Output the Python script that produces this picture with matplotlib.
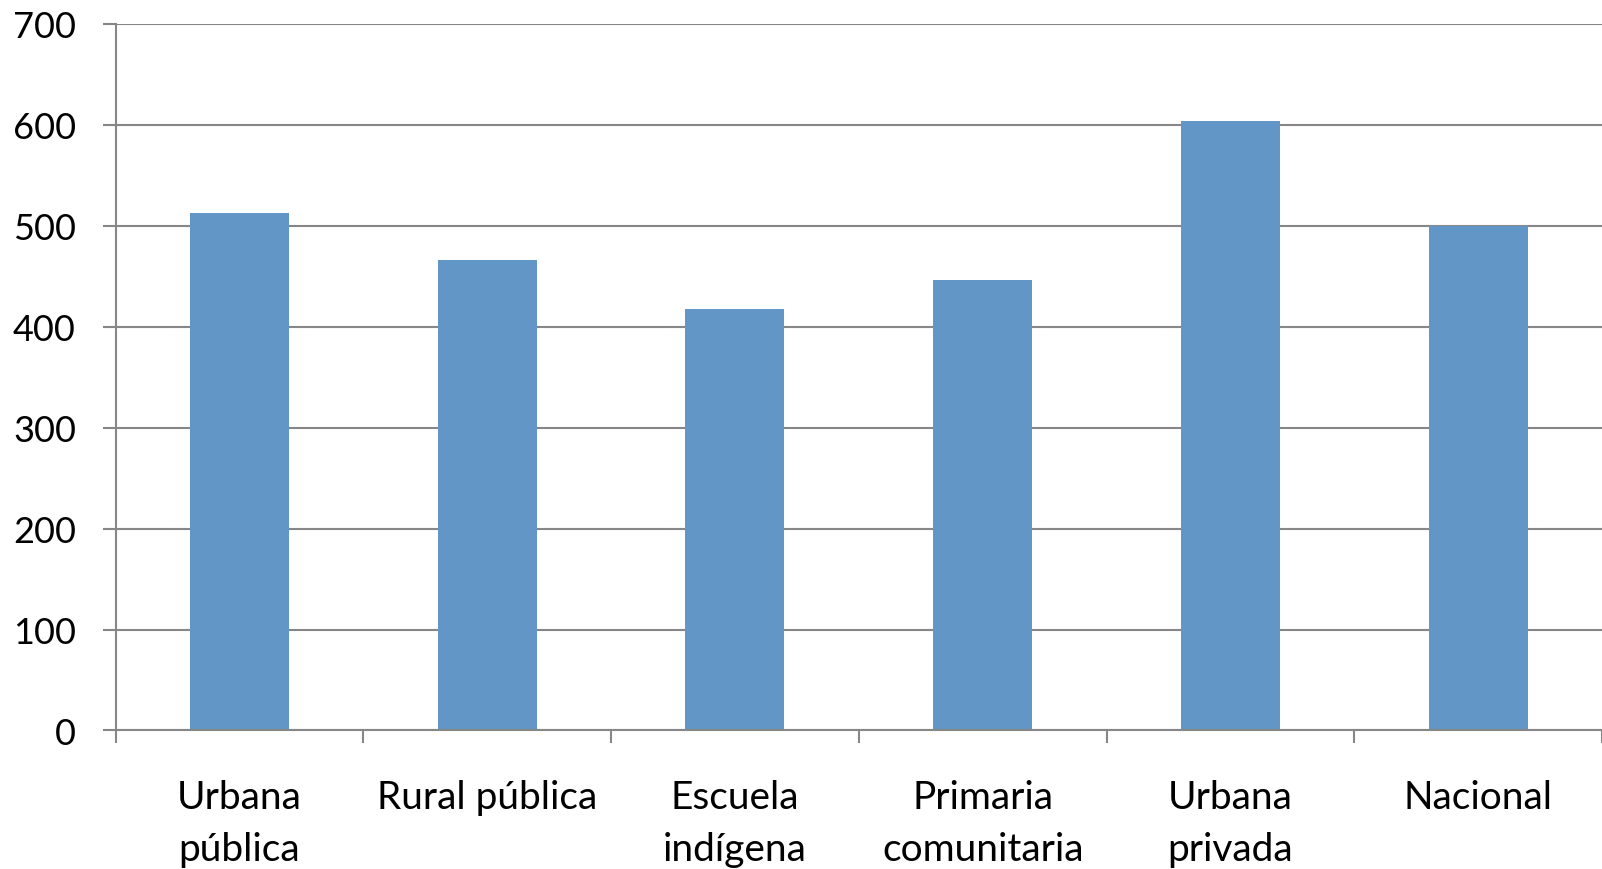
import numpy as np
import matplotlib
matplotlib.use("Agg")
import matplotlib.pyplot as plt

# data
categories = ["Urbana\npública", "Rural pública", "Escuela\nindígena",
              "Primaria\ncomunitaria", "Urbana\nprivada", "Nacional"]
values = [512, 466, 417, 446, 603, 500]
y_ticks = [0, 100, 200, 300, 400, 500, 600, 700]

bar_color = "#6196C7"
grid_color = "#878787"

plt.rcParams['font.family'] = ['Lato', 'DejaVu Sans']

fig = plt.figure(figsize=(16.02, 8.70), dpi=100)
ax = fig.add_axes([0.0721, 0.1592, 0.9279, 0.8126])

x = np.arange(len(categories))
ax.bar(x, values, width=0.4, color=bar_color, zorder=3)

ax.set_xlim(-0.5, len(categories) - 0.5)
ax.set_ylim(0, 700)
ax.set_yticks(y_ticks)
ax.yaxis.grid(True, color=grid_color, linewidth=1.5, zorder=0)

# major ticks at the category boundaries, labels on minor ticks at centres
ax.set_xticks(np.arange(len(categories) + 1) - 0.5)
ax.set_xticklabels([])
ax.set_xticks(x, minor=True)
ax.set_xticklabels(categories, minor=True, fontsize=28, linespacing=1.55)
ax.tick_params(axis="x", which="major", direction="out", length=9,
               width=1.5, color=grid_color)
ax.tick_params(axis="x", which="minor", length=0, pad=35)
ax.tick_params(axis="y", direction="out", length=9.5, width=1.5,
               color=grid_color, labelsize=26, pad=19)
for lab in ax.get_xticklabels(minor=True):
    lab.set_verticalalignment("top")

for side in ["top", "right"]:
    ax.spines[side].set_visible(False)
for side in ["left", "bottom"]:
    ax.spines[side].set_color(grid_color)
    ax.spines[side].set_linewidth(1.5)
    ax.spines[side].set_zorder(4)

fig.savefig("out.png", dpi=100)
